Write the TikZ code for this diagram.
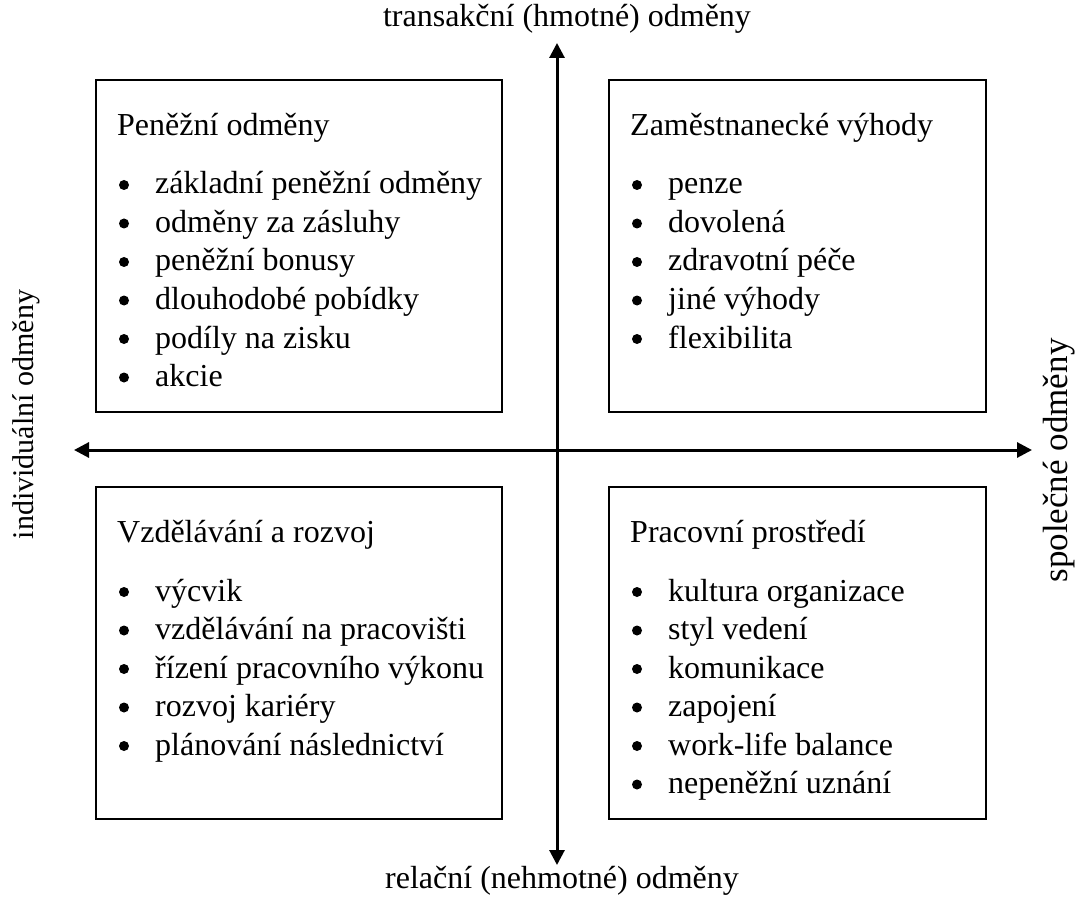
\documentclass[tikz,border=0pt]{standalone}
\usepackage{fontspec}
\setmainfont{Liberation Serif}
\usetikzlibrary{arrows.meta}
\begin{document}
\begin{tikzpicture}[x=1pt,y=-1pt,
  quad/.style={draw, line width=2pt, inner sep=0pt, outer sep=0pt, anchor=north west},
  axis/.style={line width=3pt, {Triangle[length=15pt,width=15pt]}-{Triangle[length=15pt,width=15pt]}},
  txt/.style={anchor=base west, inner sep=0pt, font=\fontsize{32}{38}\selectfont},
  lbl/.style={inner sep=0pt, anchor=base, font=\fontsize{32}{38}\selectfont},
  dot/.style={circle, fill, inner sep=0pt, minimum size=10pt}]
\useasboundingbox (0,0) rectangle (1081,901);
% boxes
\node[quad, minimum width=406pt, minimum height=332pt] (tl) at (96,80) {};
\node[quad, minimum width=377pt, minimum height=332pt] (tr) at (609,80) {};
\node[quad, minimum width=406pt, minimum height=332pt] (bl) at (96,487) {};
\node[quad, minimum width=377pt, minimum height=332pt] (br) at (609,487) {};
% axes
\coordinate (top) at (557,43);
\coordinate (bot) at (557,865);
\coordinate (lft) at (74,450);
\coordinate (rgt) at (1032,450);
\draw[axis] (top) -- (bot);
\draw[axis] (lft) -- (rgt);
% axis labels
\node[lbl] (ltop) at (567,27) {transakční (hmotné) odměny};
\node[lbl] (lbot) at (562,888) {relační (nehmotné) odměny};
\node[lbl, rotate=90, font=\fontsize{30}{36}\selectfont] (llft) at (33,414.5) {individuální odměny};
\node[lbl, rotate=90, font=\fontsize{35}{42}\selectfont] (lrgt) at (1067,460.5) {společné odměny};
% top-left
\node[txt] (tlh) at (117,135.5) {Peněžní odměny};
\foreach \t [count=\i from 0] in {základní peněžní odměny, odměny za zásluhy, peněžní bonusy, dlouhodobé pobídky, podíly na zisku, akcie}{
  \node[dot] (tlb\i) at (124,194-9+38.5*\i) {};
  \node[txt] (tlt\i) at (155,194+38.5*\i) {\t};
}
% top-right
\node[txt] (trh) at (630,135.5) {Zaměstnanecké výhody};
\foreach \t [count=\i from 0] in {penze, dovolená, zdravotní péče, jiné výhody, flexibilita}{
  \node[dot] (trb\i) at (637,194-9+38.5*\i) {};
  \node[txt] (trt\i) at (668,194+38.5*\i) {\t};
}
% bottom-left
\node[txt] (blh) at (117,542.5) {Vzdělávání a rozvoj};
\foreach \t [count=\i from 0] in {výcvik, vzdělávání na pracovišti, řízení pracovního výkonu, rozvoj kariéry, plánování následnictví}{
  \node[dot] (blb\i) at (124,601-9+38.5*\i) {};
  \node[txt] (blt\i) at (155,601+38.5*\i) {\t};
}
% bottom-right
\node[txt] (brh) at (630,542.5) {Pracovní prostředí};
\foreach \t [count=\i from 0] in {kultura organizace, styl vedení, komunikace, zapojení, work-life balance, nepeněžní uznání}{
  \node[dot] (brb\i) at (637,601-9+38.5*\i) {};
  \node[txt] (brt\i) at (668,601+38.5*\i) {\t};
}
\end{tikzpicture}
\end{document}
